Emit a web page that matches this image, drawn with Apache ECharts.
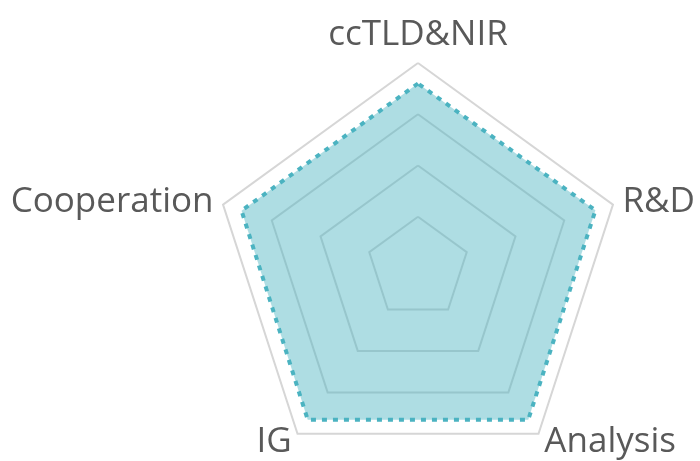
<!DOCTYPE html>
<html>
<head>
<meta charset="utf-8">
<script src="https://cdn.jsdelivr.net/npm/echarts@6/dist/echarts.min.js"></script>
<style>
  html, body { margin: 0; padding: 0; background: #fff; }
  #chart { width: 700px; height: 461px; }
</style>
</head>
<body>
<div id="chart"></div>
<script>
// indicators, listed counter-clockwise from the top
const axes = ['ccTLD&NIR', 'Cooperation', 'IG', 'Analysis', 'R&D']
const maxVal = 100
const scores = [90, 90.5, 91.5, 91.5, 91]

const chart = echarts.init(document.getElementById('chart'))

chart.setOption({
  backgroundColor: '#fff',
  animation: false,
  radar: {
    center: [418, 268],
    radius: 205,
    startAngle: 90,
    splitNumber: 4,
    shape: 'polygon',
    indicator: axes.map((name) => ({ name, max: maxVal, min: 0 })),
    axisName: {
      color: '#595959',
      fontFamily: 'Open Sans',
      fontSize: 35
    },
    nameGap: 10,
    axisLine: { show: false },
    axisTick: { show: false },
    axisLabel: { show: false },
    splitArea: { show: false },
    splitLine: { lineStyle: { color: '#d6d6d6', width: 2 } }
  },
  series: [{
    type: 'radar',
    symbol: 'none',
    data: [{
      value: scores,
      lineStyle: { color: '#4bb3c1', width: 4, type: [5, 6] },
      areaStyle: { color: '#4bb3c1', opacity: 0.45 }
    }]
  }]
})
</script>
</body>
</html>
